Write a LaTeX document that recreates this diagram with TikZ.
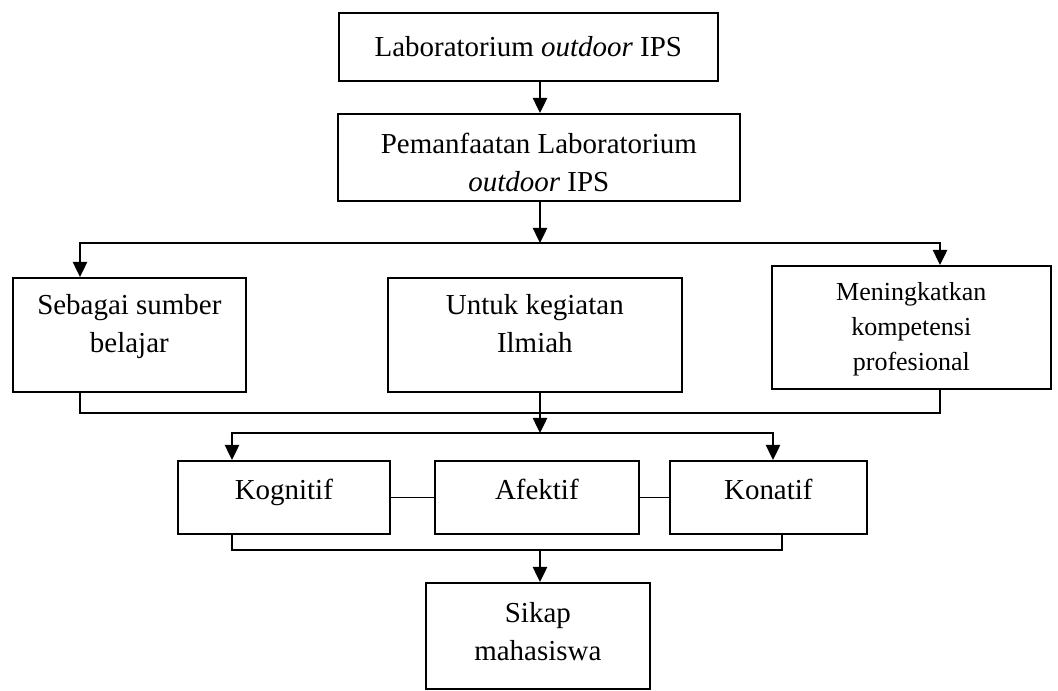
\documentclass[tikz,border=0pt]{standalone}
\usepackage{fontspec}
\setmainfont{Liberation Serif}
\usetikzlibrary{arrows.meta,calc,positioning}

\tikzset{
  box/.style n args={3}{draw, line width=1.2pt, inner sep=0pt, anchor=north west,
    font=\fontsize{20.6}{27}\selectfont,
    execute at begin node={\begin{minipage}[c][#2][t]{#1}\centering\vspace{#3}},
    execute at end node={\end{minipage}}},
  line/.style={line width=1.2pt},
  arr/.style={line width=1.2pt, -{Triangle[length=0.38cm,width=0.36cm]}},
}

\begin{document}
\begin{tikzpicture}
        \useasboundingbox (0,0) rectangle (26.45,-17.25);
        %Boxes
        \node[box={9.475cm}{1.7cm}{0.6cm}] (lab) at (8.45,-0.3) {Laboratorium \textit{outdoor} IPS};
        \node[box={10.05cm}{2.175cm}{0.475cm}] (pem) at (8.425,-2.825) {Pemanfaatan Laboratorium\\ \textit{outdoor} IPS};
        \node[box={5.825cm}{2.85cm}{0.425cm}] (sumber) at (0.3,-6.925) {Sebagai sumber\\ belajar};
        \node[box={7.35cm}{2.85cm}{0.425cm}] (ilmiah) at (9.675,-6.925) {Untuk kegiatan\\ Ilmiah};
        \node[box={6.975cm}{3.075cm}{0.425cm}, font=\fontsize{18.5}{24.9}\selectfont] (profesi) at (19.275,-6.625) {Meningkatkan\\ kompetensi\\ profesional};
        \node[box={5.3cm}{1.825cm}{0.45cm}] (kog) at (4.425,-11.5) {Kognitif};
        \node[box={5.1cm}{1.825cm}{0.45cm}] (afe) at (10.85,-11.5) {Afektif};
        \node[box={4.925cm}{1.825cm}{0.45cm}] (kon) at (16.725,-11.5) {Konatif};
        \node[box={5.6cm}{2.65cm}{0.5cm}] (sikap) at (10.625,-14.55) {Sikap\\ mahasiswa};
        %Junctions
        \coordinate (split1) at (13.5,-6.075);
        \coordinate (join2) at (13.5,-10.325);
        \coordinate (split3) at (13.5,-10.825);
        \coordinate (join4) at (13.5,-13.75);
        %Arrows
        \draw[arr] (lab.south -| split1) -- (pem.north -| split1);
        \draw[arr] (pem.south -| split1) -- (split1);
        \draw[arr] (split1) -| ([xshift=1.7cm]sumber.north west);
        \draw[arr] (split1) -| ([xshift=4.225cm]profesi.north west);
        \draw[line] ([xshift=1.7cm]sumber.south west) |- (join2) -| ([xshift=4.225cm]profesi.south west);
        \draw[arr] (ilmiah.south -| split3) -- (split3);
        \draw[arr] (split3) -| ([xshift=1.375cm]kog.north west);
        \draw[arr] (split3) -| ([xshift=2.6cm]kon.north west);
        \draw[line] (kog.east) -- (afe.west);
        \draw[line] (afe.east) -- (kon.west);
        \draw[line] ([xshift=1.375cm]kog.south west) |- (join4) -| ([xshift=2.825cm]kon.south west);
        \draw[arr] (join4) -- (sikap.north -| join4);
\end{tikzpicture}
\end{document}
